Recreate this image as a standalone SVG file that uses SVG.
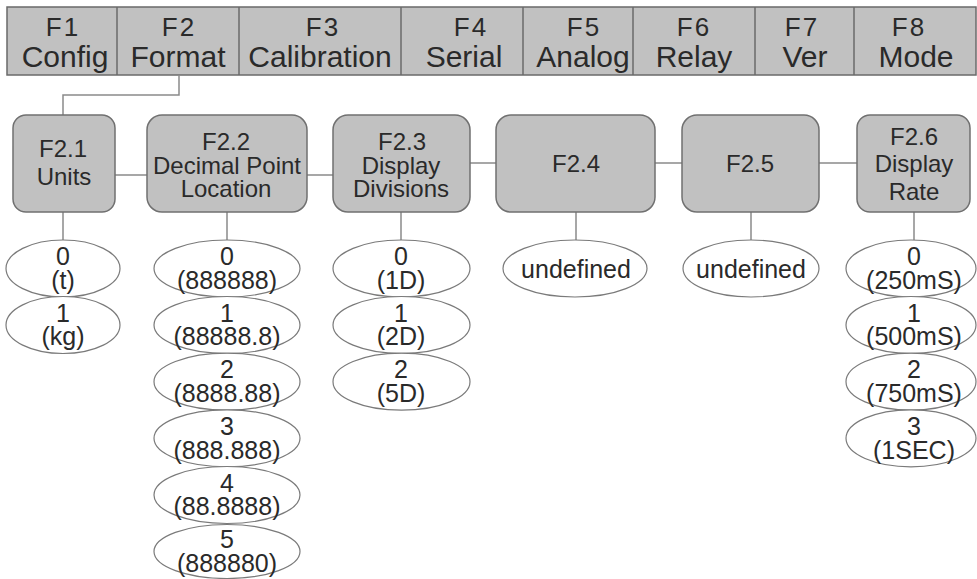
<svg xmlns="http://www.w3.org/2000/svg" width="977" height="579" viewBox="0 0 977 579">
<style>
text{font-family:"Liberation Sans",Arial,sans-serif;fill:#2a2a2a;text-anchor:middle}
.bar{fill:#c1c1c1;stroke:#6a6a6a;stroke-width:1.5}
.div{stroke:#6a6a6a;stroke-width:1.5}
.t{font-size:30px}
.t1{font-size:26px;letter-spacing:2px}
.node{fill:#c1c1c1;stroke:#707070;stroke-width:1.5}
.nt{font-size:24px}
.opt{fill:#ffffff;stroke:#7a7a7a;stroke-width:1.2}
.ot{font-size:25px}
.conn{fill:none;stroke:#8a8a8a;stroke-width:1.5}
</style>
<rect width="977" height="579" fill="#ffffff"/>

<g id="menu-bar">
<rect class="bar" x="7" y="7" width="969" height="68"/>
<line class="div" x1="117" y1="7" x2="117" y2="75"/>
<line class="div" x1="239" y1="7" x2="239" y2="75"/>
<line class="div" x1="401" y1="7" x2="401" y2="75"/>
<line class="div" x1="523" y1="7" x2="523" y2="75"/>
<line class="div" x1="633" y1="7" x2="633" y2="75"/>
<line class="div" x1="755" y1="7" x2="755" y2="75"/>
<line class="div" x1="854" y1="7" x2="854" y2="75"/>
</g>
<g id="F1"><text class="t"><tspan class="t1" x="63" y="36">F1</tspan><tspan x="65" y="67">Config</tspan></text></g>
<g id="F2"><text class="t"><tspan class="t1" x="179" y="36">F2</tspan><tspan x="178" y="67">Format</tspan></text></g>
<g id="F3"><text class="t"><tspan class="t1" x="323" y="36">F3</tspan><tspan x="320" y="67">Calibration</tspan></text></g>
<g id="F4"><text class="t"><tspan class="t1" x="471" y="36">F4</tspan><tspan x="464" y="67">Serial</tspan></text></g>
<g id="F5"><text class="t"><tspan class="t1" x="584" y="36">F5</tspan><tspan x="583" y="67">Analog</tspan></text></g>
<g id="F6"><text class="t"><tspan class="t1" x="694" y="36">F6</tspan><tspan x="694" y="67">Relay</tspan></text></g>
<g id="F7"><text class="t"><tspan class="t1" x="802" y="36">F7</tspan><tspan x="805" y="67">Ver</tspan></text></g>
<g id="F8"><text class="t"><tspan class="t1" x="909" y="36">F8</tspan><tspan x="916" y="67">Mode</tspan></text></g>

<g id="connectors">
<polyline class="conn" points="179,75 179,95 63,95 63,115"/>
<line class="conn" x1="115" y1="175" x2="147" y2="175"/>
<line class="conn" x1="307" y1="175" x2="333" y2="175"/>
<line class="conn" x1="470" y1="163" x2="496" y2="163"/>
<line class="conn" x1="655" y1="163" x2="682" y2="163"/>
<line class="conn" x1="819" y1="163" x2="857" y2="163"/>
<line class="conn" x1="63" y1="212" x2="63" y2="240"/>
<line class="conn" x1="227" y1="212" x2="227" y2="240"/>
<line class="conn" x1="401" y1="212" x2="401" y2="240"/>
<line class="conn" x1="576" y1="212" x2="576" y2="240"/>
<line class="conn" x1="751" y1="212" x2="751" y2="240"/>
<line class="conn" x1="914" y1="212" x2="914" y2="240"/>
</g>

<g id="F2.1">
<rect class="node" x="13" y="115" width="102" height="97" rx="13"/>
<text class="nt"><tspan x="63" y="157">F2.1</tspan><tspan x="64" y="185">Units</tspan></text>
</g>
<g id="F2.2">
<rect class="node" x="147" y="115" width="160" height="97" rx="15"/>
<text class="nt"><tspan x="226" y="150">F2.2</tspan><tspan x="227" y="174">Decimal Point</tspan><tspan x="226" y="197">Location</tspan></text>
</g>
<g id="F2.3">
<rect class="node" x="333" y="115" width="137" height="97" rx="15"/>
<text class="nt"><tspan x="402" y="150">F2.3</tspan><tspan x="401" y="174">Display</tspan><tspan x="401" y="197">Divisions</tspan></text>
</g>
<g id="F2.4">
<rect class="node" x="496" y="115" width="159" height="97" rx="15"/>
<text class="nt" x="576" y="172">F2.4</text>
</g>
<g id="F2.5">
<rect class="node" x="682" y="115" width="137" height="97" rx="15"/>
<text class="nt" x="750" y="172">F2.5</text>
</g>
<g id="F2.6">
<rect class="node" x="857" y="115" width="113" height="97" rx="13"/>
<text class="nt"><tspan x="914" y="145">F2.6</tspan><tspan x="914" y="172">Display</tspan><tspan x="914" y="200">Rate</tspan></text>
</g>

<g id="F2.1-options">
<ellipse class="opt" cx="63" cy="268.5" rx="57" ry="28.5"/>
<text class="ot"><tspan x="63" y="265">0</tspan><tspan x="63" y="289">(t)</tspan></text>
<ellipse class="opt" cx="63" cy="325" rx="57" ry="28.5"/>
<text class="ot"><tspan x="63" y="322">1</tspan><tspan x="63" y="345">(kg)</tspan></text>
</g>
<g id="F2.2-options">
<ellipse class="opt" cx="227" cy="268.5" rx="73" ry="28.5"/>
<text class="ot"><tspan x="227" y="265">0</tspan><tspan x="227" y="289">(888888)</tspan></text>
<ellipse class="opt" cx="227" cy="325" rx="73" ry="28.5"/>
<text class="ot"><tspan x="227" y="322">1</tspan><tspan x="227" y="345">(88888.8)</tspan></text>
<ellipse class="opt" cx="227" cy="381.7" rx="73" ry="28.5"/>
<text class="ot"><tspan x="227" y="378">2</tspan><tspan x="227" y="402">(8888.88)</tspan></text>
<ellipse class="opt" cx="227" cy="438.3" rx="73" ry="28.5"/>
<text class="ot"><tspan x="227" y="435">3</tspan><tspan x="227" y="459">(888.888)</tspan></text>
<ellipse class="opt" cx="227" cy="495" rx="73" ry="28.5"/>
<text class="ot"><tspan x="227" y="492">4</tspan><tspan x="227" y="515">(88.8888)</tspan></text>
<ellipse class="opt" cx="227" cy="551.5" rx="73" ry="27"/>
<text class="ot"><tspan x="227" y="548">5</tspan><tspan x="227" y="572">(888880)</tspan></text>
</g>
<g id="F2.3-options">
<ellipse class="opt" cx="401.5" cy="268.5" rx="68.5" ry="28.5"/>
<text class="ot"><tspan x="401" y="265">0</tspan><tspan x="401" y="289">(1D)</tspan></text>
<ellipse class="opt" cx="401.5" cy="325" rx="68.5" ry="28.5"/>
<text class="ot"><tspan x="401" y="322">1</tspan><tspan x="401" y="345">(2D)</tspan></text>
<ellipse class="opt" cx="401.5" cy="381.7" rx="68.5" ry="28.5"/>
<text class="ot"><tspan x="401" y="378">2</tspan><tspan x="401" y="402">(5D)</tspan></text>
</g>
<g id="F2.4-options">
<ellipse class="opt" cx="575" cy="268.5" rx="72" ry="28.5"/>
<text class="ot" x="576" y="278">undefined</text>
</g>
<g id="F2.5-options">
<ellipse class="opt" cx="751" cy="268.5" rx="68" ry="28.5"/>
<text class="ot" x="751" y="278">undefined</text>
</g>
<g id="F2.6-options">
<ellipse class="opt" cx="911" cy="268.5" rx="65" ry="28.5"/>
<text class="ot"><tspan x="914" y="265">0</tspan><tspan x="914" y="289">(250mS)</tspan></text>
<ellipse class="opt" cx="911" cy="325" rx="65" ry="28.5"/>
<text class="ot"><tspan x="914" y="322">1</tspan><tspan x="914" y="345">(500mS)</tspan></text>
<ellipse class="opt" cx="911" cy="381.7" rx="65" ry="28.5"/>
<text class="ot"><tspan x="914" y="378">2</tspan><tspan x="914" y="402">(750mS)</tspan></text>
<ellipse class="opt" cx="911" cy="438.3" rx="65" ry="28.5"/>
<text class="ot"><tspan x="914" y="435">3</tspan><tspan x="914" y="459">(1SEC)</tspan></text>
</g>
</svg>
